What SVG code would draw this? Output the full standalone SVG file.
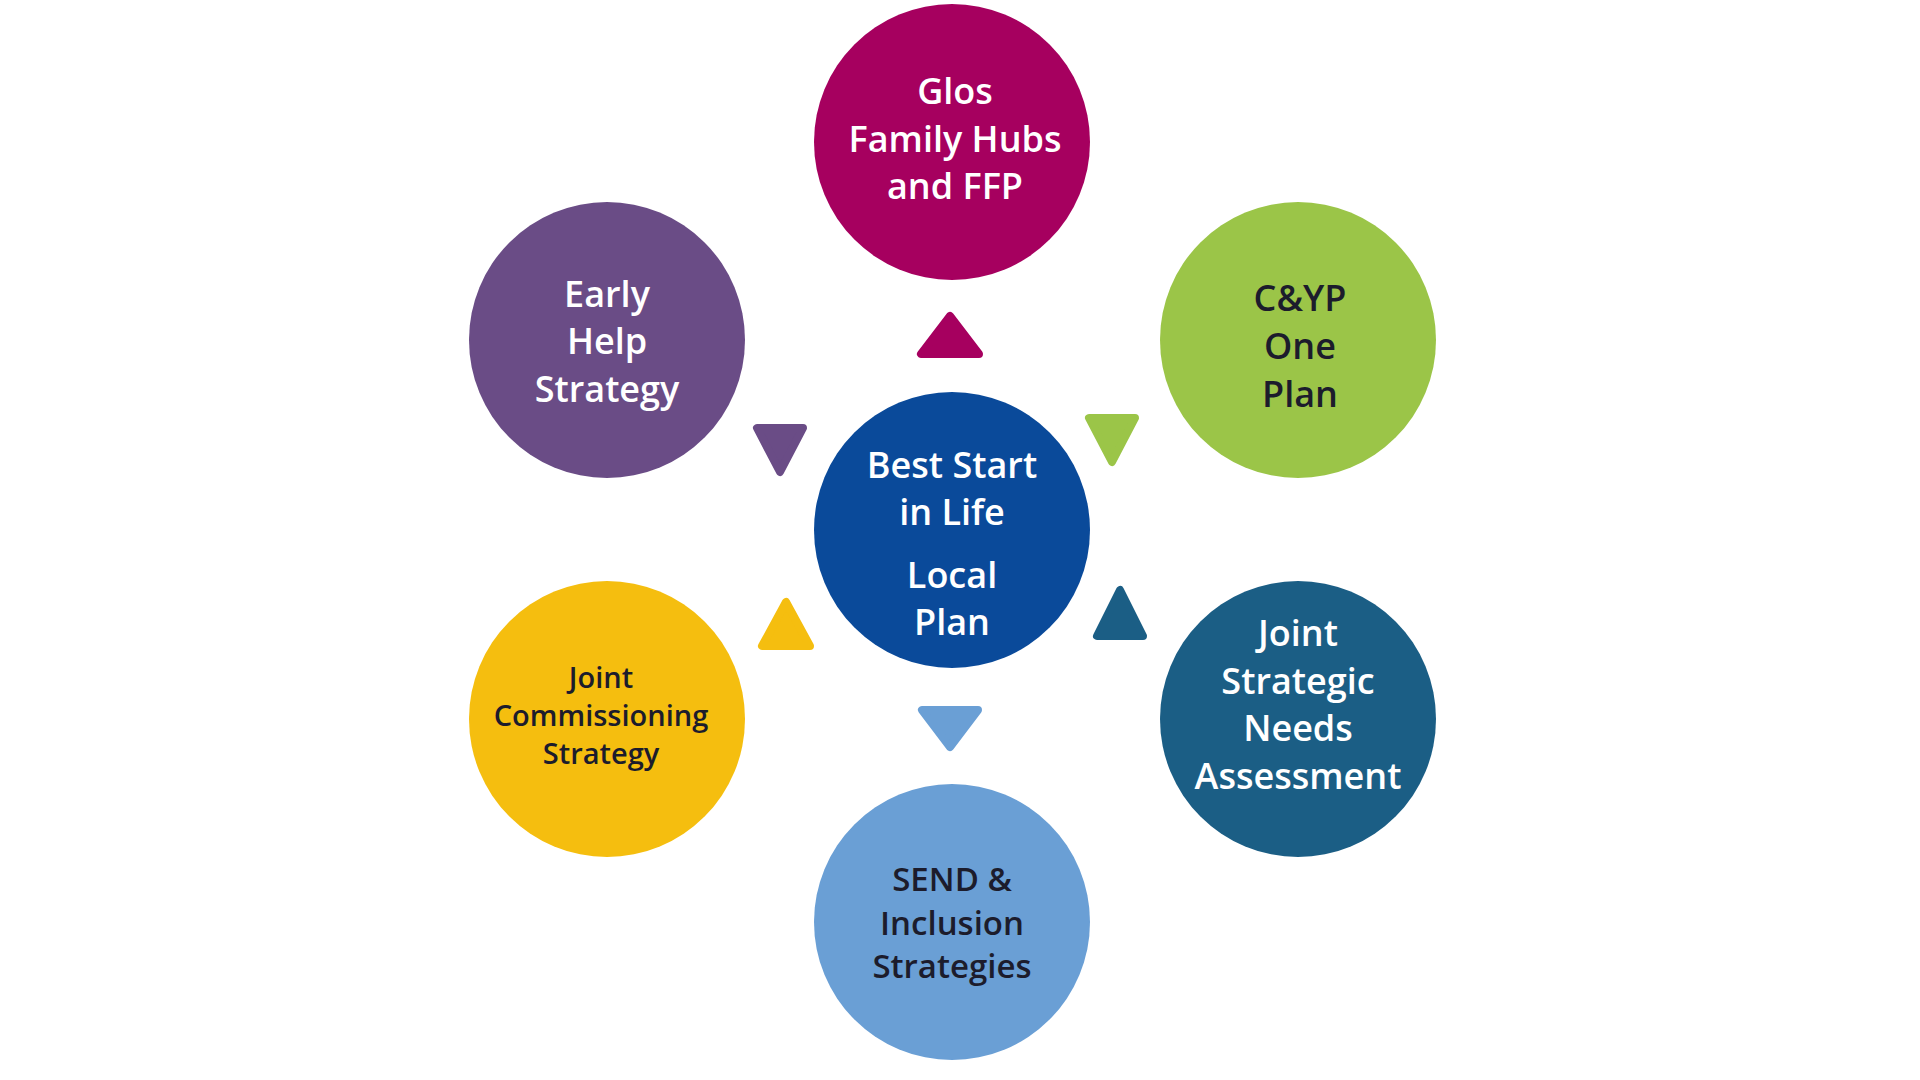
<svg xmlns="http://www.w3.org/2000/svg" width="1920" height="1080" viewBox="0 0 1920 1080">
<style>
text{font-family:"Open Sans","Liberation Sans",sans-serif;font-weight:600;text-anchor:middle}
.w{fill:#fff;font-size:36px}
.d{fill:#1c1c2c;font-size:36px}
.e{fill:#1c1c2c;font-size:33px}
.s{fill:#1c1c2c;font-size:29px}
.tri{stroke-linejoin:round;stroke-width:8}
</style>
<rect width="1920" height="1080" fill="#fff"/>
<g transform="translate(-5,-2)">
<g id="connectors">
<polygon class="tri" points="955,318 926,356 984,356" fill="#A6005F" stroke="#A6005F"/>
<polygon class="tri" points="762,430 808,430 785,474" fill="#6A4C86" stroke="#6A4C86"/>
<polygon class="tri" points="1094,420 1140,420 1117,464" fill="#9BC548" stroke="#9BC548"/>
<polygon class="tri" points="791,604 767,648 815,648" fill="#F5BE0F" stroke="#F5BE0F"/>
<polygon class="tri" points="1125,592 1102,638 1148,638" fill="#1B5E85" stroke="#1B5E85"/>
<polygon class="tri" points="927,712 983,712 955,749" fill="#6A9FD5" stroke="#6A9FD5"/>
</g>
<g id="center"><circle cx="957" cy="532" r="138" fill="#0A4A9A"/>
<text class="w" x="957" y="480">Best Start</text><text class="w" x="957" y="527">in Life</text>
<text class="w" x="957" y="590">Local</text><text class="w" x="957" y="637">Plan</text></g>
<g id="glos"><circle cx="957" cy="144" r="138" fill="#A6005F"/>
<text class="w" x="960" y="106">Glos</text><text class="w" x="960" y="154">Family Hubs</text><text class="w" x="960" y="201">and FFP</text></g>
<g id="early"><circle cx="612" cy="342" r="138" fill="#6A4C86"/>
<text class="w" x="612" y="309">Early</text><text class="w" x="612" y="356">Help</text><text class="w" x="612" y="404">Strategy</text></g>
<g id="cyp"><circle cx="1303" cy="342" r="138" fill="#9BC548"/>
<text class="d" x="1305" y="313">C&amp;YP</text><text class="d" x="1305" y="361">One</text><text class="d" x="1305" y="409">Plan</text></g>
<g id="jcs"><circle cx="612" cy="721" r="138" fill="#F5BE0F"/>
<text class="s" x="606" y="690">Joint</text><text class="s" x="606" y="728">Commissioning</text><text class="s" x="606" y="766">Strategy</text></g>
<g id="jsna"><circle cx="1303" cy="721" r="138" fill="#1B5E85"/>
<text class="w" x="1303" y="648">Joint</text><text class="w" x="1303" y="696">Strategic</text><text class="w" x="1303" y="743">Needs</text><text class="w" x="1303" y="791">Assessment</text></g>
<g id="send"><circle cx="957" cy="924" r="138" fill="#6A9FD5"/>
<text class="e" x="957" y="893">SEND &amp;</text><text class="e" x="957" y="937">Inclusion</text><text class="e" x="957" y="980">Strategies</text></g>
</g>
</svg>
